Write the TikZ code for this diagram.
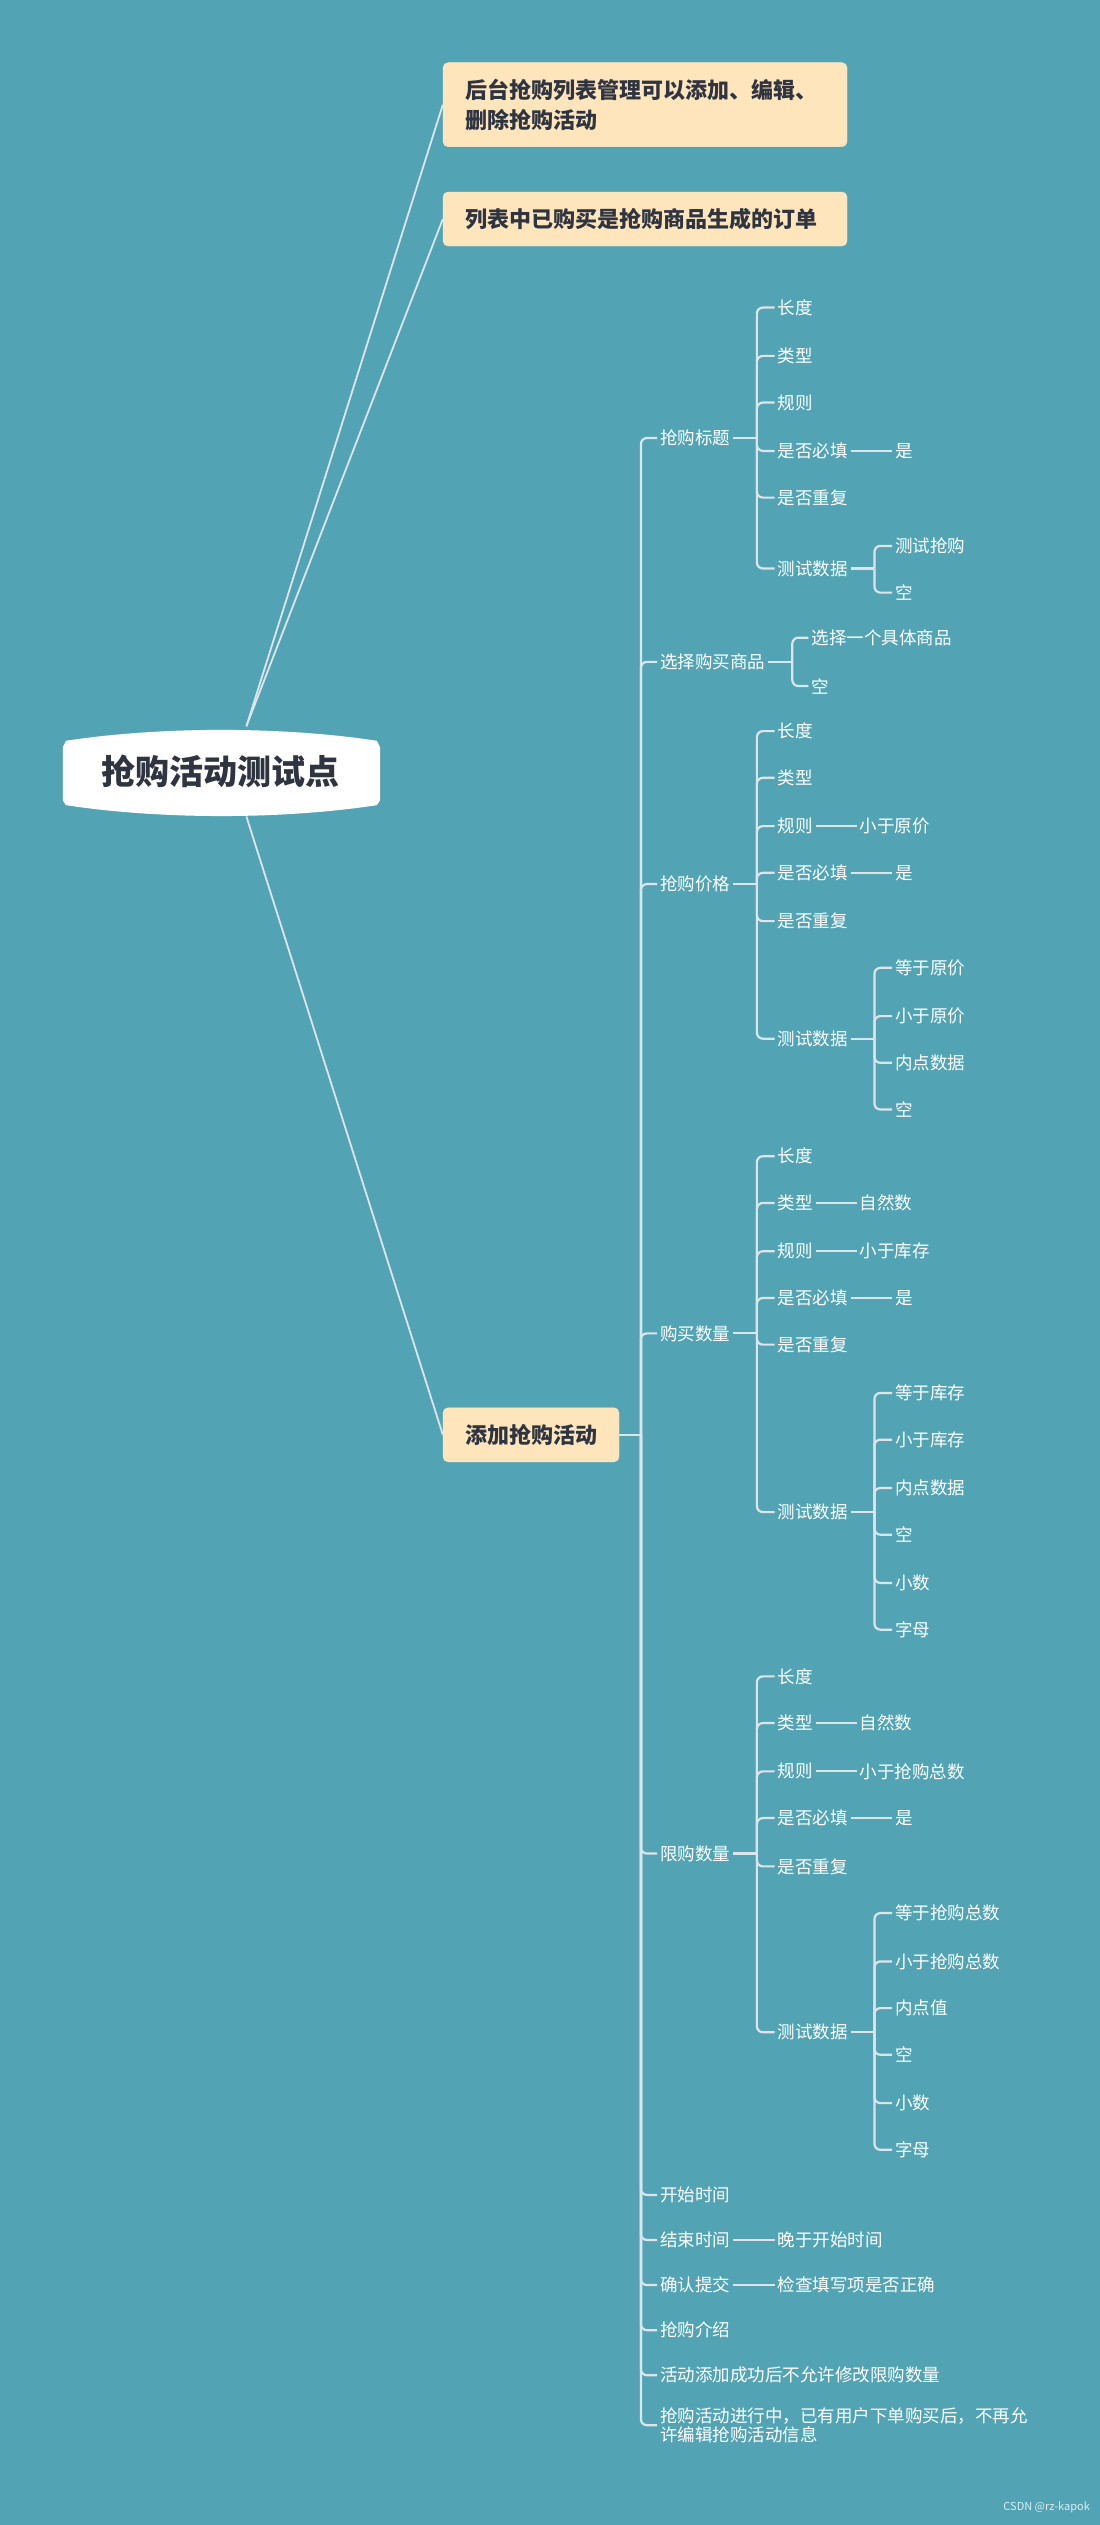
\documentclass[tikz,border=0pt]{standalone}
\usepackage{fontspec}
\setmainfont{Noto Sans CJK SC}
\definecolor{bg}{HTML}{52A4B4}
\definecolor{ln}{HTML}{DDE4EA}
\definecolor{nd}{HTML}{FFE5BC}
\definecolor{tx}{HTML}{2E3440}
\tikzset{
 lbl/.style={anchor=west,text=white,font=\fontsize{17.5}{21}\selectfont,inner xsep=3pt,inner ysep=2pt},
 br/.style={draw=ln,line width=2.2pt,rounded corners=6pt},
 hd/.style={anchor=west,fill=nd,draw=nd!80!white,rounded corners=5pt,text=tx,font=\fontsize{22}{30}\selectfont\bfseries,inner xsep=22pt,align=left},
}
\newcommand\nd[4]{\node[lbl] (#1) at (#2,#3) {#4};}
\newcommand\kid[3]{\draw[br] (#1.east -| #2) |- (#3.west);}
\newcommand\stub[2]{\draw[br] (#1.east) -- (#1.east -| #2);}
\newcommand\dsh[2]{\draw[br] (#1.east) -- (#2.west);}
\begin{document}
\begin{tikzpicture}[x=1.6105pt,y=-1.6105pt]
\fill[bg] (0,0) rectangle (683,1568);
\useasboundingbox (0,0) rectangle (683,1568);
% root
\fill[white] (41,460) .. controls (100,451) and (175,451) .. (234,460) -- (236,464) -- (236,497) -- (234,500) .. controls (175,509) and (100,509) .. (41,500) -- (39,497) -- (39,464) -- cycle;
\node[text=tx,font=\fontsize{34}{36}\selectfont\bfseries] (root) at (137,479) {抢购活动测试点};
\coordinate (rt) at (153,451);
\coordinate (rb) at (153,507);
% level 1
\node[hd,text width=360pt,minimum height=84pt] (a1) at (275,65) {后台抢购列表管理可以添加、编辑、\\删除抢购活动};
\node[hd,text width=360pt,minimum height=54pt] (a2) at (275,136) {列表中已购买是抢购商品生成的订单};
\node[hd,minimum height=54pt] (a3) at (275,891) {添加抢购活动};
\draw[ln,line width=1.8pt] (rt) -- (a1.west);
\draw[ln,line width=1.8pt] (rt) -- (a2.west);
\draw[ln,line width=1.8pt] (rb) -- (a3.west);
\coordinate (t2) at (398,0);
\coordinate (t3) at (470,0);
\coordinate (t3b) at (492,0);
\coordinate (t4) at (543,0);
\draw[br] (a3.east) -- (a3.east -| t2);
% level 2
\nd{p1}{408}{272}{抢购标题}
\nd{p2}{408}{411}{选择购买商品}
\nd{p3}{408}{549}{抢购价格}
\nd{p4}{408}{828}{购买数量}
\nd{p5}{408}{1151}{限购数量}
\nd{p6}{408}{1363}{开始时间}
\nd{p7}{408}{1391}{结束时间}
\nd{p8}{408}{1419}{确认提交}
\nd{p9}{408}{1447}{抢购介绍}
\nd{p10}{408}{1475}{活动添加成功后不允许修改限购数量}
\node[lbl,align=left,font=\fontsize{17.5}{19.5}\selectfont] (p11) at (408,1506) {抢购活动进行中，已有用户下单购买后，不再允\\许编辑抢购活动信息};
\foreach \p in {p1,p2,p3,p4,p5,p6,p7,p8,p9,p10,p11} {\kid{a3}{t2}{\p}}
\nd{q7}{481}{1391}{晚于开始时间}\dsh{p7}{q7}
\nd{q8}{481}{1419}{检查填写项是否正确}\dsh{p8}{q8}
% 抢购标题
\stub{p1}{t3}
\nd{a}{481}{191}{长度}\nd{b}{481}{221}{类型}\nd{c}{481}{250}{规则}\nd{d}{481}{280}{是否必填}\nd{e}{481}{309}{是否重复}\nd{f}{481}{353}{测试数据}
\foreach \c in {a,b,c,d,e,f} {\kid{p1}{t3}{\c}}
\nd{d1}{554}{280}{是}\dsh{d}{d1}
\stub{f}{t4}
\nd{f1}{554}{339}{测试抢购}\nd{f2}{554}{368}{空}
\kid{f}{t4}{f1}\kid{f}{t4}{f2}
% 选择购买商品
\stub{p2}{t3b}
\nd{g1}{502}{396}{选择一个具体商品}\nd{g2}{502}{426}{空}
\kid{p2}{t3b}{g1}\kid{p2}{t3b}{g2}
% 抢购价格
\stub{p3}{t3}
\nd{h1}{481}{454}{长度}\nd{h2}{481}{483}{类型}\nd{h3}{481}{513}{规则}\nd{h4}{481}{542}{是否必填}\nd{h5}{481}{572}{是否重复}\nd{h6}{481}{645}{测试数据}
\foreach \c in {h1,h2,h3,h4,h5,h6} {\kid{p3}{t3}{\c}}
\nd{h3a}{532}{513}{小于原价}\dsh{h3}{h3a}
\nd{h4a}{554}{542}{是}\dsh{h4}{h4a}
\stub{h6}{t4}
\nd{i1}{554}{601}{等于原价}\nd{i2}{554}{631}{小于原价}\nd{i3}{554}{660}{内点数据}\nd{i4}{554}{689}{空}
\foreach \c in {i1,i2,i3,i4} {\kid{h6}{t4}{\c}}
% 购买数量
\stub{p4}{t3}
\nd{j1}{481}{718}{长度}\nd{j2}{481}{747}{类型}\nd{j3}{481}{777}{规则}\nd{j4}{481}{806}{是否必填}\nd{j5}{481}{835}{是否重复}\nd{j6}{481}{939}{测试数据}
\foreach \c in {j1,j2,j3,j4,j5,j6} {\kid{p4}{t3}{\c}}
\nd{j2a}{532}{747}{自然数}\dsh{j2}{j2a}
\nd{j3a}{532}{777}{小于库存}\dsh{j3}{j3a}
\nd{j4a}{554}{806}{是}\dsh{j4}{j4a}
\stub{j6}{t4}
\nd{k1}{554}{865}{等于库存}\nd{k2}{554}{894}{小于库存}\nd{k3}{554}{924}{内点数据}\nd{k4}{554}{953}{空}\nd{k5}{554}{983}{小数}\nd{k6}{554}{1012}{字母}
\foreach \c in {k1,k2,k3,k4,k5,k6} {\kid{j6}{t4}{\c}}
% 限购数量
\stub{p5}{t3}
\nd{m1}{481}{1041}{长度}\nd{m2}{481}{1070}{类型}\nd{m3}{481}{1100}{规则}\nd{m4}{481}{1129}{是否必填}\nd{m5}{481}{1159}{是否重复}\nd{m6}{481}{1262}{测试数据}
\foreach \c in {m1,m2,m3,m4,m5,m6} {\kid{p5}{t3}{\c}}
\nd{m2a}{532}{1070}{自然数}\dsh{m2}{m2a}
\nd{m3a}{532}{1100}{小于抢购总数}\dsh{m3}{m3a}
\nd{m4a}{554}{1129}{是}\dsh{m4}{m4a}
\stub{m6}{t4}
\nd{n1}{554}{1188}{等于抢购总数}\nd{n2}{554}{1218}{小于抢购总数}\nd{n3}{554}{1247}{内点值}\nd{n4}{554}{1276}{空}\nd{n5}{554}{1306}{小数}\nd{n6}{554}{1335}{字母}
\foreach \c in {n1,n2,n3,n4,n5,n6} {\kid{m6}{t4}{\c}}
\node[anchor=east,text=white!80!bg,font=\fontsize{11}{12}\selectfont] (wm) at (679,1557) {CSDN @rz-kapok};
\end{tikzpicture}
\end{document}
